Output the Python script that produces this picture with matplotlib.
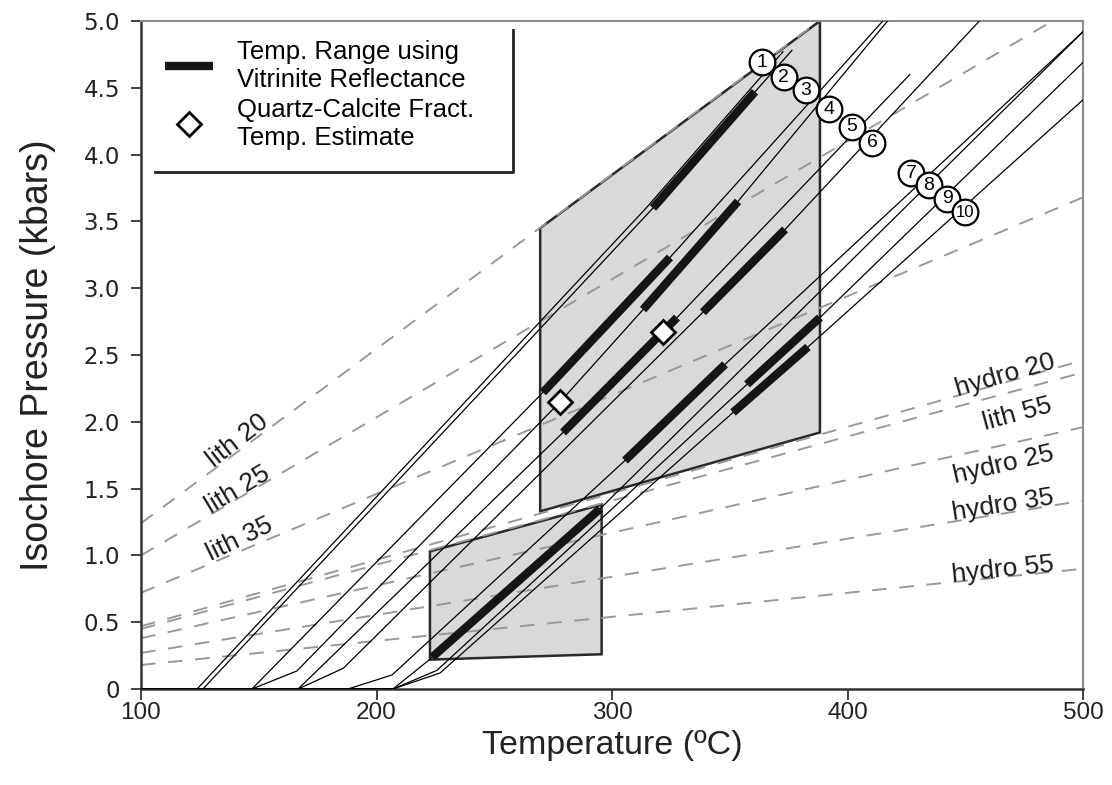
import matplotlib
matplotlib.use('Agg')
import matplotlib.pyplot as plt
import numpy as np
from matplotlib.lines import Line2D

plt.rcParams['font.family'] = ['Liberation Sans', 'DejaVu Sans']

# geotherm reference lines (end points, T in degC, P in kbar)
geo_names = ['lith 20', 'lith 25', 'lith 35', 'lith 55',
             'hydro 20', 'hydro 25', 'hydro 35', 'hydro 55']
geo_T = [(100, 388), (100, 487), (100, 500), (100, 500),
         (100, 500), (100, 500), (100, 500), (100, 500)]
geo_P = [(1.24, 5.0), (1.00, 5.0), (0.72, 3.68), (0.45, 2.37),
         (0.47, 2.46), (0.38, 1.96), (0.27, 1.41), (0.18, 0.90)]
geo_label_T = [141, 141, 142, 472, 467, 466, 466, 466]
geo_label_P = [1.86, 1.49, 1.12, 2.06, 2.35, 1.68, 1.38, 0.89]
geo_label_rot = [38, 31, 26, 15, 16, 13, 9, 6]

# isochores for samples 1-10
iso_T = [
    [100, 123.8, 314.5, 372.6],
    [100, 126.3, 317.4, 360.7, 376.4],
    [100, 147.1, 270.7, 324.6, 415.0],
    [100, 147.1, 166.2, 278.0, 313.2, 353.5, 417.0],
    [100, 166.7, 279.2, 327.6, 426.5],
    [100, 166.7, 185.9, 338.6, 373.5, 456.0],
    [100, 187.9, 206.6, 305.5, 348.0, 500.0],
    [100, 207.0, 222.5, 295.0, 500.0],
    [100, 207.0, 225.7, 357.3, 388.3, 500.0],
    [100, 207.0, 227.0, 351.4, 383.2, 500.0],
]
iso_P = [
    [0, 0, 3.60, 4.77],
    [0, 0, 3.60, 4.47, 4.78],
    [0, 0, 2.22, 3.23, 5.00],
    [0, 0, 0.135, 2.15, 2.84, 3.65, 5.00],
    [0, 0, 1.92, 2.78, 4.60],
    [0, 0, 0.155, 2.82, 3.44, 5.00],
    [0, 0, 0.105, 1.71, 2.43, 4.92],
    [0, 0, 0.22, 1.35, 4.92],
    [0, 0, 0.14, 2.28, 2.78, 4.69],
    [0, 0, 0.12, 2.07, 2.56, 4.41],
]
sample_ids = [str(i) for i in range(1, 11)]
id_T = [363.7, 373.0, 382.4, 392.2, 401.9, 410.4, 427.0, 434.6, 442.3, 449.9]
id_P = [4.69, 4.58, 4.48, 4.34, 4.21, 4.09, 3.86, 3.77, 3.67, 3.57]

# vitrinite reflectance temperature ranges (sample, T min, T max)
vr_sample = [2, 3, 4, 5, 6, 7, 8, 9, 10]
vr_Tmin = [317.4, 270.7, 313.2, 279.2, 338.6, 305.5, 223.6, 357.3, 351.4]
vr_Tmax = [360.7, 324.6, 353.5, 327.6, 373.5, 348.0, 295.0, 388.3, 383.2]

# quartz-calcite fractionation temperatures
qc_sample = [4, 5]
qc_T = [278.0, 321.7]

# P-T envelopes
env_upper_T = [269.5, 388.3, 388.3, 269.5]
env_upper_P = [3.45, 5.00, 1.92, 1.33]
env_lower_T = [222.7, 295.6, 295.6, 222.7]
env_lower_P = [1.03, 1.38, 0.26, 0.22]

fig = plt.figure(figsize=(11.12, 7.85), dpi=100)
ax = fig.add_axes([141 / 1112, 1 - 689 / 785, 942 / 1112, 668 / 785])
ax.set_xlim(100, 500)
ax.set_ylim(0, 5)

for T, P in [(env_upper_T, env_upper_P), (env_lower_T, env_lower_P)]:
    ax.fill(T, P, facecolor='#d9d9d9', edgecolor='#2a2a2a', lw=1.8, zorder=1)

for T, P in zip(geo_T, geo_P):
    ax.plot(T, P, color='#9a9a94', lw=1.4, dashes=(7.5, 6.5), zorder=2)

for name, x, y, rot in zip(geo_names, geo_label_T, geo_label_P, geo_label_rot):
    ax.text(x, y, name, fontsize=19, rotation=rot, rotation_mode='anchor',
            ha='center', va='center', color='#1a1a1a', zorder=3)

for T, P in zip(iso_T, iso_P):
    ax.plot(T, P, color='black', lw=0.9, zorder=3)

for s, t0, t1 in zip(vr_sample, vr_Tmin, vr_Tmax):
    T, P = iso_T[s - 1], iso_P[s - 1]
    tt = [t0] + [t for t in T if t0 < t < t1] + [t1]
    ax.plot(tt, np.interp(tt, T, P), color='#151515', lw=6,
            solid_capstyle='butt', zorder=4)

for s, t in zip(qc_sample, qc_T):
    ax.plot(t, np.interp(t, iso_T[s - 1], iso_P[s - 1]), ls='none', marker='D',
            ms=12.5, mfc='white', mec='black', mew=2, zorder=5)

ax.plot(id_T, id_P, ls='none', marker='o', ms=18.5, mfc='white', mec='black',
        mew=1.6, zorder=6)
for sid, x, y in zip(sample_ids, id_T, id_P):
    ax.text(x, y, sid, fontsize=14 if len(sid) == 1 else 12,
            ha='center', va='center', zorder=7)

# axes styling
ax.set_xticks([100, 200, 300, 400, 500])
ax.set_yticks(np.arange(0, 5.01, 0.5))
ax.set_yticklabels(['0'] + ['%.1f' % v for v in np.arange(0.5, 5.01, 0.5)])
ax.tick_params(axis='y', direction='out', length=7, width=1.2, pad=8,
               labelsize=16.5, colors='#222')
ax.tick_params(axis='x', direction='out', length=8, width=1.2, pad=1.5,
               labelsize=17.5, colors='#222')
for lab in ax.get_yticklabels():
    lab.set_family('DejaVu Sans')
for side in ['left', 'bottom']:
    ax.spines[side].set_color('#333333')
    ax.spines[side].set_linewidth(1.8)
for side in ['top', 'right']:
    ax.spines[side].set_color('#8c8c8c')
    ax.spines[side].set_linewidth(1.5)

ax.set_xlabel('Temperature (ºC)', fontsize=24.5, labelpad=4, color='#222')
ax.set_ylabel('Isochore Pressure (kbars)', fontsize=27, labelpad=20,
              color='#222')

handles = [Line2D([], [], color='#151515', lw=6, solid_capstyle='butt'),
           Line2D([], [], ls='none', marker='D', ms=12.5, mfc='white',
                  mec='black', mew=2)]
labels = ['Temp. Range using\nVitrinite Reflectance',
          'Quartz-Calcite Fract.\nTemp. Estimate']
ax.legend(handles, labels, loc='upper left', bbox_to_anchor=(0.0255, 0.972),
          frameon=False, prop={'family': 'Liberation Sans', 'size': 18.5},
          handlelength=1.85, handletextpad=0.95, labelspacing=0.25,
          borderpad=0, borderaxespad=0)
ax.plot([0.395, 0.395, 0.0149], [0.9865, 0.774, 0.774], color='#222',
        lw=2, transform=ax.transAxes, clip_on=False, zorder=8)

fig.savefig('out.png', dpi=100)
